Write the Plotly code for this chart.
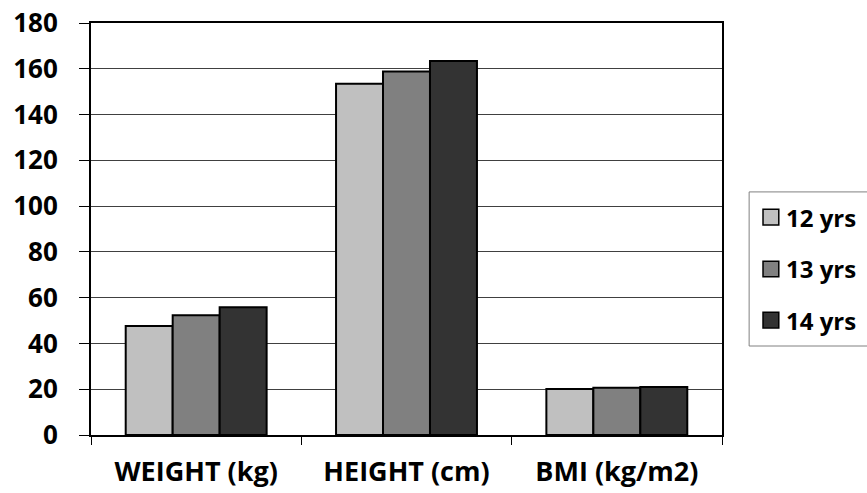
import plotly.graph_objects as go

categories = ["WEIGHT (kg)", "HEIGHT (cm)", "BMI (kg/m2)"]
age_groups = ["12 yrs", "13 yrs", "14 yrs"]
values_12 = [47.6, 153.5, 20.1]
values_13 = [52.3, 158.8, 20.6]
values_14 = [55.8, 163.4, 21.0]
y_ticks = [0, 20, 40, 60, 80, 100, 120, 140, 160, 180]

series = [values_12, values_13, values_14]
fills = ["#C0C0C0", "#808080", "#333333"]

FONT = "Open Sans"

fig = go.Figure()
for name, vals, color in zip(age_groups, series, fills):
    fig.add_trace(go.Bar(
        x=categories, y=vals, name=name, showlegend=False,
        marker=dict(color=color, line=dict(color="#000000", width=2)),
    ))

# Legend panel drawn in paper coordinates to the right of the plot area
shapes = [dict(type="rect", xref="paper", yref="paper",
               x0=1.043, x1=1.32, y0=0.216, y1=0.590,
               line=dict(color="#808080", width=1), fillcolor="white", layer="below")]
annotations = []
legend_y = [0.529, 0.403, 0.279]
for name, color, ly in zip(age_groups, fills, legend_y):
    shapes.append(dict(type="rect", xref="paper", yref="paper",
                       x0=1.065, x1=1.090, y0=ly - 0.019, y1=ly + 0.019,
                       line=dict(color="#000000", width=1.5), fillcolor=color))
    annotations.append(dict(xref="paper", yref="paper", x=1.098, y=ly,
                            xanchor="left", yanchor="middle", showarrow=False,
                            text=name,
                            font=dict(family=FONT, size=24, color="#000000", weight="bold")))

fig.update_layout(
    width=867, height=493,
    margin=dict(l=91, r=145, t=23, b=58),
    paper_bgcolor="white", plot_bgcolor="white",
    barmode="group", bargap=0.33, bargroupgap=0,
    font=dict(family=FONT, color="#000000"),
    showlegend=False,
    shapes=shapes,
    annotations=annotations,
    xaxis=dict(
        showline=True, linecolor="#000000", linewidth=2, mirror=True,
        ticks="outside", tickson="boundaries", ticklen=8, tickcolor="#000000",
        tickfont=dict(family=FONT, size=27, weight="bold"),
        ticklabelstandoff=12,
        showgrid=False, automargin=False,
    ),
    yaxis=dict(
        range=[0, 180], tickvals=y_ticks,
        showline=True, linecolor="#000000", linewidth=2, mirror=True,
        ticks="outside", ticklen=10, tickcolor="#000000",
        tickfont=dict(family=FONT, size=26, weight="bold"),
        ticklabelstandoff=16,
        showgrid=True, gridcolor="#404040", gridwidth=1,
        zeroline=False, automargin=False,
    ),
)

fig.write_html("out.html")
